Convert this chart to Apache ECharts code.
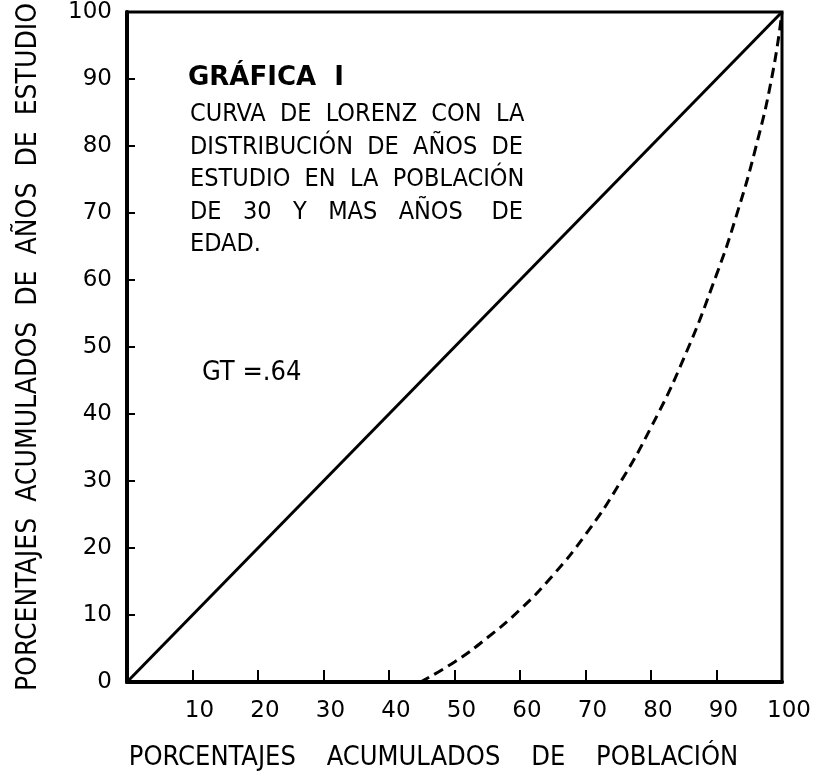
<!DOCTYPE html>
<html>
<head>
<meta charset="utf-8">
<script src="https://cdn.jsdelivr.net/npm/echarts@6/dist/echarts.min.js"></script>
<style>
  html, body { margin: 0; padding: 0; background: #fff; }
  #chart { width: 819px; height: 775px; }
</style>
</head>
<body>
<div id="chart"></div>
<script>
// línea de igualdad
var equalityX = [0, 100];
var equalityY = [0, 100];

// curva de Lorenz
var lorenzX = [44.8, 50, 55, 60, 65, 70, 75, 80, 85, 90, 93, 96, 98.5, 100];
var lorenzY = [0, 3.0, 6.6, 10.8, 15.9, 22.0, 29.3, 38.0, 48.3, 60.8, 69.5, 79.8, 90.5, 100];

var xTicks = [10, 20, 30, 40, 50, 60, 70, 80, 90, 100];
var yTicks = [0, 10, 20, 30, 40, 50, 60, 70, 80, 90, 100];

var titleText = 'GRÁFICA  I';
var subtitleLines = [
    'CURVA  DE  LORENZ  CON  LA',
    'DISTRIBUCIÓN  DE  AÑOS  DE',
    'ESTUDIO  EN  LA  POBLACIÓN',
    'DE   30   Y   MAS   AÑOS    DE',
    'EDAD.'
];
var giniText = 'GT =.64';

function pairs(xs, ys) {
    return xs.map(function (x, i) { return [x, ys[i]]; });
}

var font = 'DejaVu Sans';
var condensed = 'DejaVu Sans Condensed';
var chart = echarts.init(document.getElementById('chart'));

var graphics = [{
    type: 'text', left: 188, top: 65,
    style: { text: titleText, font: 'bold 26px "DejaVu Sans"', fill: '#000' }
}];
subtitleLines.forEach(function (line, i) {
    graphics.push({
        type: 'text', left: 190, top: 102 + i * 32.5,
        style: { text: line, font: '25px "DejaVu Sans Condensed"', fill: '#000' }
    });
});
graphics.push({
    type: 'text', left: 202, top: 359,
    style: { text: giniText, font: '27px "DejaVu Sans Condensed"', fill: '#000' }
});

chart.setOption({
    animation: false,
    backgroundColor: '#fff',
    grid: {
        left: 127, right: 37, top: 12, bottom: 93,
        outerBoundsMode: 'none',
        show: true, borderColor: '#000', borderWidth: 3
    },
    graphic: graphics,
    xAxis: {
        type: 'value', min: 0, max: 100, interval: 10,
        name: 'PORCENTAJES    ACUMULADOS    DE    POBLACIÓN',
        nameLocation: 'middle', nameGap: 62,
        nameTextStyle: { fontFamily: condensed, fontSize: 27, color: '#000', padding: [0, 42, 0, 0] },
        axisLine: { lineStyle: { color: '#000', width: 4 } },
        axisTick: { inside: true, length: 12, lineStyle: { color: '#000', width: 2 } },
        axisLabel: {
            margin: 18, fontFamily: font, fontSize: 23, color: '#000',
            padding: [0, 0, 0, 14],
            formatter: function (v) { return xTicks.indexOf(v) >= 0 ? String(v) : ''; }
        },
        splitLine: { show: false }
    },
    yAxis: {
        type: 'value', min: 0, max: 100, interval: 10,
        name: 'PORCENTAJES  ACUMULADOS  DE  AÑOS  DE  ESTUDIO',
        nameLocation: 'middle', nameGap: 84,
        nameTextStyle: { fontFamily: condensed, fontSize: 28, color: '#000' },
        axisLine: { lineStyle: { color: '#000', width: 4 } },
        axisTick: { inside: true, length: 8, lineStyle: { color: '#000', width: 2 } },
        axisLabel: {
            margin: 15, fontFamily: font, fontSize: 23, color: '#000',
            padding: [0, 0, 12, 0],
            formatter: function (v) { return yTicks.indexOf(v) >= 0 ? String(v) : ''; }
        },
        splitLine: { show: false }
    },
    series: [
        {
            name: 'Igualdad', type: 'line',
            data: pairs(equalityX, equalityY),
            symbol: 'none',
            lineStyle: { color: '#000', width: 3 }
        },
        {
            name: 'Lorenz', type: 'line',
            data: pairs(lorenzX, lorenzY),
            symbol: 'none', smooth: 0.5,
            lineStyle: { color: '#000', width: 3, type: [10, 6] }
        }
    ]
});
</script>
</body>
</html>
